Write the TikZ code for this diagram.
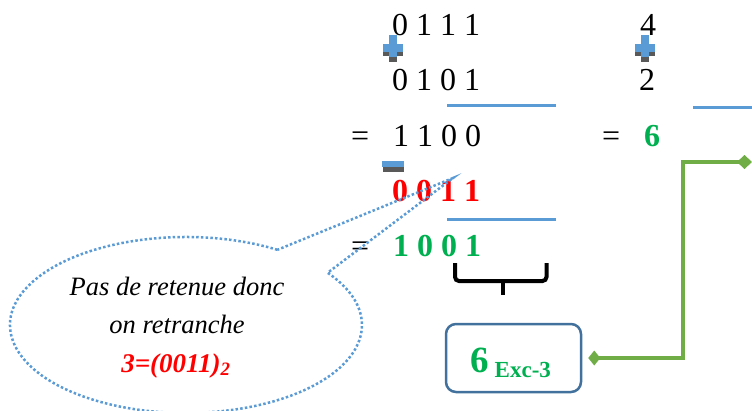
\documentclass[tikz,border=0pt]{standalone}
\usepackage{fontspec}
\setmainfont{Liberation Serif}
\usetikzlibrary{arrows.meta}
\definecolor{accblue}{HTML}{5B9BD5}
\definecolor{shadowgray}{HTML}{595959}
\definecolor{okgreen}{HTML}{00B050}
\definecolor{linkgreen}{HTML}{70AD47}
\definecolor{boxblue}{HTML}{41719C}
\definecolor{errred}{HTML}{FF0000}

% blue plus sign with a grey drop shadow; #1,#2 = top-left corner
\newcommand\opplus[2]{%
  \begin{scope}[shift={(#1,#2)}]
    \fill[shadowgray] (6,-5) rectangle (14,-27);
    \fill[shadowgray] (0,-13) rectangle (20,-21);
    \fill[accblue] (6,0) rectangle (14,-22);
    \fill[accblue] (0,-9) rectangle (20,-17);
  \end{scope}}

\begin{document}
\begin{tikzpicture}[x=1pt,y=1pt,
  txt/.style={anchor=base west, inner sep=0pt, font=\fontsize{32}{32}\selectfont},
  bin/.style={txt, font=\fontsize{32}{32}\selectfont\bfseries},
  rule/.style={accblue, line width=3pt},
  notetxt/.style={anchor=base, inner sep=0pt, font=\fontsize{26.5}{30}\selectfont\itshape},
  callout/.style={accblue, line width=2.5pt, dash pattern=on 2.5pt off 2.2pt},
  resbox/.style={draw=boxblue, line width=2.5pt, rounded corners=10pt,
                 minimum width=135pt, minimum height=68pt, inner sep=0pt},
  link/.style={linkgreen, line width=4pt},
]
\useasboundingbox (0,0) rectangle (752,-410);

% ---- binary addition, left column
\node[txt] (a1) at (392,-35) {0 1 1 1};
\opplus{383}{-35}
\node[txt] (a2) at (392,-90) {0 1 0 1};
\draw[rule] (447,-105) -- (556,-105);
\node[txt] (eq1) at (351,-146) {=};
\node[txt] (s1) at (393,-146) {1 1 0 0};

% ---- correction: subtract 3
\fill[shadowgray] (383,-167) rectangle (404,-172);
\fill[accblue] (382,-161) rectangle (404,-167);
\node[bin, text=errred] (c3) at (392,-201) {0 0 1 1};
\draw[rule] (447,-219) -- (556,-219);
\node[txt] (eq2) at (351,-256) {=};
\node[bin, text=okgreen] (res1) at (393,-256) {1 0 0 1};

% brace under the result
\draw[line width=4pt, rounded corners=4pt] (455,-263) -- (455,-281) -- (546.5,-281) -- (546.5,-263);
\draw[line width=4pt] (502.5,-281) -- (502.5,-295);

% ---- decimal check, right column
\node[txt] (d1) at (640,-35) {4};
\opplus{635}{-35}
\node[txt] (d2) at (639,-90) {2};
\draw[rule] (693,-107) -- (752,-107);
\node[txt] (eq3) at (602,-146) {=};
\node[bin, text=okgreen] (dsum) at (644,-146) {6};

% ---- result box
\node[resbox] (res) at (513.5,-358) {};
\node[anchor=base west, inner sep=0pt, text=okgreen, font=\bfseries] (restxt) at (470,-372)
  {{\fontsize{37}{37}\selectfont 6}\hspace{6pt}\raisebox{-5pt}{\fontsize{23}{23}\selectfont Exc-3}};

% connector from the decimal sum to the box
\coordinate (rt) at (752,-162);
\coordinate (bend) at (683,-162);
\draw[link, {Diamond[length=15pt,width=14pt]}-{Diamond[length=12pt,width=15pt]}]
  (rt) -- (bend) |- ([xshift=6pt]res.east);

% ---- speech bubble
\draw[callout] (277.4,-249.8) arc[start angle=58.7, end angle=396.4, x radius=176, y radius=88]
  -- (453,-178) -- cycle;
\node[notetxt] (n1) at (177,-295) {Pas de retenue donc};
\node[notetxt] (n2) at (177,-333) {on retranche};
\node[notetxt, text=errred, font=\fontsize{27}{30}\selectfont\bfseries\itshape] (n3) at (176,-372)
  {3=(0011)\textsubscript{2}};
\end{tikzpicture}
\end{document}
